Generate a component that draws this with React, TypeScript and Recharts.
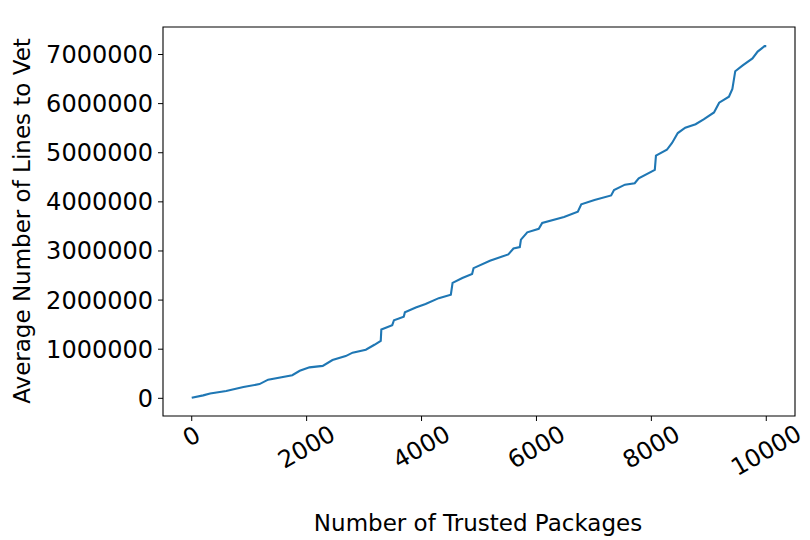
import { LineChart, Line, XAxis, YAxis, ReferenceArea } from "recharts";

// values (packages -> average lines to vet)
const packages = [
  0, 200, 320, 600, 900, 1180, 1330, 1750, 1880, 2050, 2280, 2450, 2680, 2800,
  3030, 3180, 3290, 3300, 3490, 3520, 3690, 3710, 3900, 4070, 4300, 4510, 4540,
  4710, 4880, 4905, 5190, 5510, 5600, 5710, 5730, 5840, 6040, 6100, 6480, 6720,
  6780, 7010, 7300, 7350, 7540, 7710, 7780, 8060, 8080, 8270, 8360, 8460, 8590,
  8770, 8910, 9090, 9180, 9350, 9410, 9460, 9590, 9760, 9850, 9970, 10000,
];
const linesToVet = [
  10000, 60000, 100000, 150000, 230000, 290000, 380000, 470000, 560000, 630000,
  660000, 780000, 860000, 930000, 990000, 1090000, 1170000, 1400000, 1490000,
  1590000, 1660000, 1750000, 1850000, 1920000, 2040000, 2110000, 2350000,
  2450000, 2530000, 2650000, 2800000, 2930000, 3050000, 3080000, 3230000,
  3380000, 3450000, 3570000, 3690000, 3800000, 3950000, 4040000, 4130000,
  4240000, 4350000, 4380000, 4480000, 4650000, 4940000, 5060000, 5200000,
  5400000, 5510000, 5580000, 5680000, 5820000, 6020000, 6140000, 6300000,
  6660000, 6780000, 6920000, 7060000, 7170000, 7170000,
];
const xTicks = [0, 2000, 4000, 6000, 8000, 10000];
const yTicks = [0, 1000000, 2000000, 3000000, 4000000, 5000000, 6000000, 7000000];

const data = packages.map((p, i) => ({ packages: p, lines: linesToVet[i] }));

const FONT = "DejaVu Sans";
const X_DOMAIN: [number, number] = [-500, 10500];
const Y_DOMAIN: [number, number] = [-360000, 7560000];

function RotatedTick(props: any) {
  const { x, y, payload } = props;
  const label = String(payload.value);
  const w = label.length * 14;
  const cy = y + 1 + (w * 0.5 + 22.2) / 2;
  return (
    <text
      x={x}
      y={cy}
      transform={`rotate(-30 ${x} ${cy})`}
      textAnchor="middle"
      dominantBaseline="central"
      fontSize={24}
      fontFamily={FONT}
      fill="#000"
    >
      {label}
    </text>
  );
}

export default function App() {
  return (
    <div style={{ position: "absolute", left: 0, top: 0, background: "#fff" }}>
      <LineChart
        width={810}
        height={540}
        data={data}
        margin={{ top: 27, right: 15, bottom: 10, left: 10 }}
        style={{ fontFamily: FONT }}
      >
        <XAxis
          dataKey="packages"
          type="number"
          domain={X_DOMAIN}
          ticks={xTicks}
          height={114}
          tickSize={5}
          tickMargin={0}
          axisLine={false}
          tickLine={{ stroke: "#000" }}
          tick={<RotatedTick />}
          label={{
            content: () => (
              <text x={478} y={523} textAnchor="middle" dominantBaseline="central" fontSize={23} fontFamily={FONT} fill="#000">
                Number of Trusted Packages
              </text>
            ),
          }}
        />
        <YAxis
          type="number"
          domain={Y_DOMAIN}
          ticks={yTicks}
          width={153}
          tickSize={5}
          tickMargin={5}
          axisLine={false}
          tickLine={{ stroke: "#000" }}
          tick={{ fontSize: 24, fill: "#000", fontFamily: FONT }}
          label={{
            content: () => (
              <text
                x={22}
                y={221}
                transform="rotate(-90 22 221)"
                textAnchor="middle"
                dominantBaseline="central"
                fontSize={23}
                fontFamily={FONT}
                fill="#000"
              >
                Average Number of Lines to Vet
              </text>
            ),
          }}
        />
        <ReferenceArea
          x1={X_DOMAIN[0]}
          x2={X_DOMAIN[1]}
          y1={Y_DOMAIN[0]}
          y2={Y_DOMAIN[1]}
          fill="none"
          fillOpacity={0}
          stroke="#000"
          strokeWidth={1.1}
        />
        <Line
          dataKey="lines"
          type="linear"
          stroke="#1f77b4"
          strokeWidth={2.1}
          dot={false}
          isAnimationActive={false}
        />
      </LineChart>
    </div>
  );
}
